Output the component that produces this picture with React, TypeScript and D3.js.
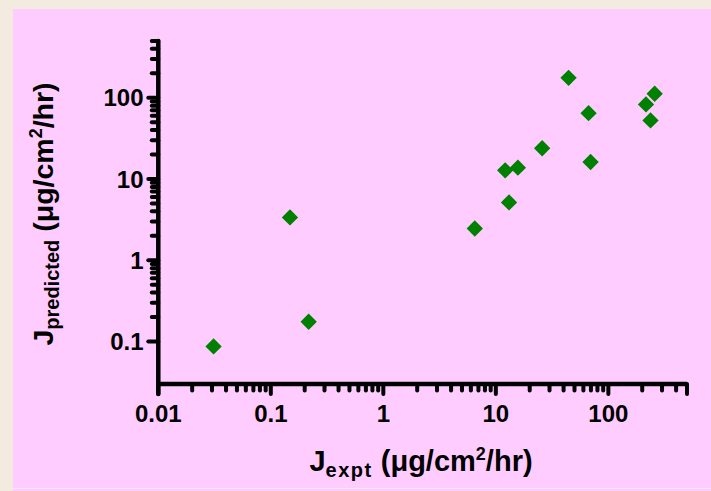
import React from "react";
import * as d3 from "d3";

const W = 711;
const H = 491;

// Data (log-log scatter)
const jExpt = [0.031, 0.148, 0.217, 6.5, 12.1, 13.1, 15.7, 25.8, 44.3, 66.7, 69.5, 216, 237, 258];
const jPredicted = [0.087, 3.37, 0.175, 2.46, 12.8, 5.15, 13.8, 23.9, 176, 64.7, 16.2, 82.8, 52.6, 112];

const xMajorTicks = [0.01, 0.1, 1, 10, 100];
const xTickLabels = ["0.01", "0.1", "1", "10", "100"];
const yMajorTicks = [0.1, 1, 10, 100];
const yTickLabels = ["0.1", "1", "10", "100"];
const xDomain = [0.01, 500];
const yDomain = [0.03, 500];

const FONT = "'Liberation Sans', Arial, sans-serif";

function minorTicks(lo: number, hi: number, startDecade: number): number[] {
  const out: number[] = [];
  for (let d = startDecade; d <= hi * 10; d *= 10) {
    for (let k = 2; k <= 9; k++) {
      const v = +(k * d).toPrecision(6);
      if (v > lo * 1.0001 && v <= hi * 1.0001) out.push(v);
    }
  }
  return out;
}

export default function App() {
  const x = d3.scaleLog().domain(xDomain).range([158.3, 687]);
  const y = d3.scaleLog().domain(yDomain).range([384, 41]);

  const axisY = 384;
  const axisX = 158.3;

  const xMinor = minorTicks(0.01, 500, 0.01);
  const yMinor = minorTicks(0.1, 500, 0.1);

  const diamond = d3.symbol().type(d3.symbolDiamond2).size(170)();

  return (
    <div style={{ position: "absolute", left: 0, top: 0 }}>
      <svg width={W} height={H} style={{ display: "block" }}>
        <rect x={0} y={0} width={W} height={H} fill="#f3ebdf" />
        <rect x={13} y={9} width={W - 13} height={H - 9} fill="#ffccff" />
        <line x1={13} x2={W} y1={488.5} y2={488.5} stroke="#fde9f8" strokeWidth={1} />

        {/* X axis */}
        <g stroke="#000" strokeLinecap="round">
          <line x1={axisX} x2={x(500)} y1={axisY} y2={axisY} strokeWidth={4.5} strokeLinecap="butt" />
          {xMajorTicks.concat([500]).map((t) => (
            <line key={"xM" + t} x1={x(t)} x2={x(t)} y1={axisY} y2={axisY + 10} strokeWidth={4} />
          ))}
          {xMinor.filter((t) => t !== 500).map((t) => (
            <line key={"xm" + t} x1={x(t)} x2={x(t)} y1={axisY} y2={axisY + 6.5} strokeWidth={4} />
          ))}
        </g>

        {/* Y axis */}
        <g stroke="#000" strokeLinecap="round">
          <line x1={axisX} x2={axisX} y1={y(500)} y2={axisY + 10} strokeWidth={4.5} />
          {yMajorTicks.map((t) => (
            <line key={"yM" + t} x1={axisX - 10} x2={axisX} y1={y(t)} y2={y(t)} strokeWidth={4} />
          ))}
          {yMinor.map((t) => (
            <line key={"ym" + t} x1={axisX - 6.5} x2={axisX} y1={y(t)} y2={y(t)} strokeWidth={4} />
          ))}
        </g>

        {/* tick labels */}
        <g fontFamily={FONT} fontWeight="bold" fontSize={24} fill="#000">
          {xMajorTicks.map((t, i) => (
            <text key={"xl" + t} x={x(t)} y={421.5} textAnchor="middle">
              {xTickLabels[i]}
            </text>
          ))}
          {yMajorTicks.map((t, i) => (
            <text key={"yl" + t} x={143.5} y={y(t) + 8.5} textAnchor="end">
              {yTickLabels[i]}
            </text>
          ))}
        </g>

        {/* points */}
        <g fill="#008000">
          {jExpt.map((v, i) => (
            <path key={"p" + i} d={diamond || ""} transform={`translate(${x(v)},${y(jPredicted[i])})`} />
          ))}
        </g>

        {/* axis titles */}
        <text
          x={421}
          y={471}
          textAnchor="middle"
          fontFamily={FONT}
          fontWeight="bold"
          fontSize={29}
          fill="#000"
        >
          J<tspan fontSize={20} dy={6} letterSpacing={1.5}>expt</tspan>
          <tspan dy={-6}> (μg/cm</tspan>
          <tspan fontSize={18} dy={-11}>2</tspan>
          <tspan dy={11}>/hr)</tspan>
        </text>
        <text
          transform={`translate(53,214) rotate(-90)`}
          textAnchor="middle"
          fontFamily={FONT}
          fontWeight="bold"
          fontSize={28.5}
          fill="#000"
        >
          J<tspan fontSize={20} dy={6}>predicted</tspan>
          <tspan dy={-6}> (μg/cm</tspan>
          <tspan fontSize={18} dy={-11}>2</tspan>
          <tspan dy={11}>/hr)</tspan>
        </text>
      </svg>
    </div>
  );
}
